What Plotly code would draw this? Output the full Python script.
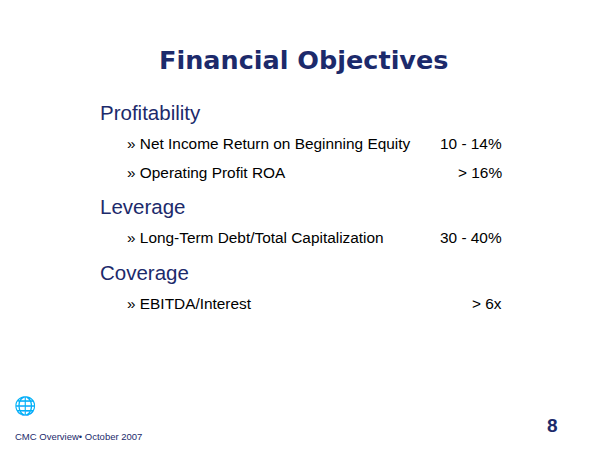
import plotly.graph_objects as go

title = "Financial Objectives"
sections = ["Profitability", "Leverage", "Coverage"]
section_y = [112, 206, 272]
items = ["Net Income Return on Beginning Equity", "Operating Profit ROA",
         "Long-Term Debt/Total Capitalization", "EBITDA/Interest"]
item_y = [143, 172, 237, 303]
targets = ["10 - 14%", "> 16%", "30 - 40%", "> 6x"]
footer = "CMC Overview\u2022 October 2007"
page = "8"

navy = "#1c2a6b"
# page body has an 8px margin, so shift everything back
dx, dy = -8, -8

fig = go.Figure()
fig.add_trace(go.Scatter(x=[0], y=[0], mode="markers", marker=dict(opacity=0), hoverinfo="skip"))

ann = []
ann.append(dict(x=303 + dx, y=60 + dy, text="<b>" + title + "</b>", showarrow=False,
                font=dict(family="Arial Black, DejaVu Sans", size=25.5, color=navy)))
for s, y in zip(sections, section_y):
    ann.append(dict(x=98 + dx, y=y + dy, text=s, xanchor="left", showarrow=False,
                    font=dict(family="Liberation Sans, Arial", size=20.5, color=navy)))
for it, t, y in zip(items, targets, item_y):
    ann.append(dict(x=125 + dx, y=y + dy, text="» " + it, xanchor="left", showarrow=False,
                    font=dict(family="Liberation Sans, Arial", size=15.4, color="black")))
    ann.append(dict(x=504 + dx, y=y + dy, text=t, xanchor="right", showarrow=False,
                    font=dict(family="Liberation Sans, Arial", size=15.4, color="black")))
ann.append(dict(x=13 + dx, y=436 + dy, text=footer, xanchor="left", showarrow=False,
                font=dict(family="Liberation Sans Narrow, Liberation Sans", size=9.5, color=navy)))
ann.append(dict(x=552 + dx, y=425 + dy, text="<b>" + page + "</b>", showarrow=False,
                font=dict(family="Liberation Sans Narrow, Liberation Sans", size=19, color=navy)))
ann.append(dict(x=25 + dx, y=405 + dy, text="\U0001F310", showarrow=False,
                font=dict(size=18, color=navy)))

fig.update_layout(width=600, height=450, margin=dict(l=0, r=0, t=0, b=0),
                  plot_bgcolor="white", paper_bgcolor="white", showlegend=False,
                  annotations=ann,
                  xaxis=dict(range=[0, 600], visible=False, fixedrange=True),
                  yaxis=dict(range=[450, 0], visible=False, fixedrange=True))
fig.write_html("out.html")
